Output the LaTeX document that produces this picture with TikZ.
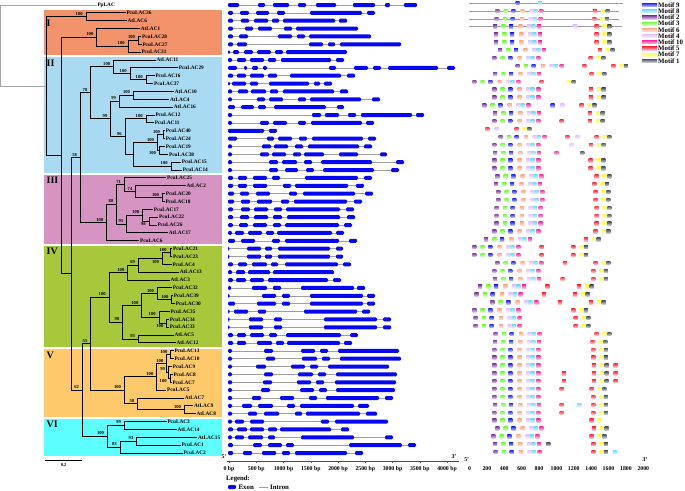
\documentclass[tikz,border=0pt]{standalone}
\usepackage{fontspec}
\setmainfont{Liberation Serif}
\usetikzlibrary{positioning}
\definecolor{cladeI}{RGB}{242,147,107}
\definecolor{cladeII}{RGB}{168,219,242}
\definecolor{cladeIII}{RGB}{214,148,195}
\definecolor{cladeIV}{RGB}{166,200,58}
\definecolor{cladeV}{RGB}{253,201,107}
\definecolor{cladeVI}{RGB}{92,254,254}
\definecolor{exonblue}{RGB}{8,8,240}
\definecolor{mot1}{RGB}{90,92,110}
\definecolor{mot2}{RGB}{135,75,165}
\definecolor{mot3}{RGB}{120,250,60}
\definecolor{mot4}{RGB}{228,196,255}
\definecolor{mot5}{RGB}{250,60,80}
\definecolor{mot6}{RGB}{255,172,140}
\definecolor{mot7}{RGB}{255,255,80}
\definecolor{mot8}{RGB}{120,220,255}
\definecolor{mot9}{RGB}{50,50,255}
\definecolor{mot10}{RGB}{255,60,170}
\tikzstyle{branch}=[draw,line width=1pt]
\tikzstyle{leaf}=[anchor=west,inner sep=0.6pt,font=\fontsize{5.3}{6}\selectfont\bfseries]
\tikzstyle{boot}=[inner sep=0.2pt,font=\fontsize{4.6}{5}\selectfont\bfseries]
\tikzstyle{clade}=[anchor=west,inner sep=0pt,font=\fontsize{10}{10}\selectfont\bfseries]
\tikzstyle{exon}=[fill=exonblue,rounded corners=1.2pt]
\tikzstyle{intron}=[draw=gray!75,line width=0.6pt]
\tikzstyle{axlab}=[inner sep=0pt,font=\fontsize{5.8}{6}\selectfont\bfseries]
\tikzstyle{legtext}=[anchor=west,inner sep=0pt,font=\fontsize{6.8}{7}\selectfont\bfseries]
\tikzstyle{mlegend}=[anchor=west,inner sep=0pt,font=\fontsize{6.8}{7}\selectfont\bfseries]

\newcommand{\generow}[3]{%
  \pgfmathsetmacro\gy{5+7.86*#1}
  \draw[intron] (0,\gy) -- (#2,\gy);
  \foreach \a/\b in {#3} \fill[exon] (\a-0.5,\gy-2) rectangle (\b+0.5,\gy+2);
}
\newcommand{\motif}[3]{%
  \pgfmathsetmacro\my{3+7.88*#1}
  \shade[top color=#2,bottom color=#2!30] ({#3-6},\my-1.7) rectangle ({#3+6},\my+1.7);
}
\newcommand{\early}[2]{\foreach \c/\o in {mot2/0,mot3/25,mot9/48,mot6/76,mot4/102,mot8/115,mot10/132} {\motif{#1}{\c}{#2+\o}}}
\newcommand{\late}[2]{\foreach \c/\o in {mot5/0,mot7/24,mot1/38} {\motif{#1}{\c}{#2+\o}}}

\begin{document}
\begin{tikzpicture}[x=1pt,y=-1pt]
  \useasboundingbox (0,0) rectangle (685,490);

  % clades
  \fill[cladeI] (44,10) rectangle (222,55);
  \fill[cladeII] (44,57) rectangle (222,173);
  \fill[cladeIII] (44,175) rectangle (222,244);
  \fill[cladeIV] (44,245.5) rectangle (222,347);
  \fill[cladeV] (44,348.5) rectangle (222,417);
  \fill[cladeVI] (44,418.5) rectangle (222,455.7);
  \node[clade] (labI) at (46.5,23.3) {I};
  \node[clade] (labII) at (46.5,63.3) {II};
  \node[clade] (labIII) at (46.5,180) {III};
  \node[clade] (labIV) at (46.5,251.7) {IV};
  \node[clade] (labV) at (46.5,355) {V};
  \node[clade] (labVI) at (46.5,424.3) {VI};

  % tree
  \coordinate (r0) at (0.7,45.6);
  \coordinate (nIn) at (46.7,86.25);
  \coordinate (nI1) at (86,16.8);
  \coordinate (nA) at (61.7,155.7);
  \coordinate (nI2) at (96.7,37.45);
  \coordinate (nI3) at (128,46.3);
  \coordinate (nI4) at (138.3,40.35);
  \coordinate (nB) at (71,273.95);
  \coordinate (nC) at (80.3,157.8);
  \coordinate (nII) at (90.7,92.94);
  \coordinate (nII1) at (113.5,66.9);
  \coordinate (nII2) at (130,73.8);
  \coordinate (nII3) at (146,79.65);
  \coordinate (nII4) at (110.7,118.98);
  \coordinate (nII5) at (119.3,101.3);
  \coordinate (nII6) at (133.3,95.4);
  \coordinate (nII7) at (125,136.65);
  \coordinate (nII8) at (146,118.95);
  \coordinate (nII9) at (133.3,154.35);
  \coordinate (nII10) at (157.3,142.55);
  \coordinate (nII11) at (163.3,134.7);
  \coordinate (nII12) at (159.3,150.4);
  \coordinate (nII13) at (171,166.15);
  \coordinate (nIII) at (106.7,222.6);
  \coordinate (nIII1) at (116.7,204.45);
  \coordinate (nIII2) at (124.3,184.8);
  \coordinate (nIII3) at (135.7,191.7);
  \coordinate (nIII4) at (162.3,197.55);
  \coordinate (nIII5) at (126.7,224.1);
  \coordinate (nIII6) at (142.7,215.3);
  \coordinate (nIII7) at (149,221.15);
  \coordinate (nD) at (82.3,390.1);
  \coordinate (nE) at (90.7,343.95);
  \coordinate (nIV) at (109,297.5);
  \coordinate (nIV1) at (127.7,272.7);
  \coordinate (nIV2) at (138.3,265.35);
  \coordinate (nIV3) at (162.3,258.5);
  \coordinate (nIV4) at (170,252.6);
  \coordinate (nIV5) at (122.7,322.35);
  \coordinate (nIV6) at (141.7,305.65);
  \coordinate (nIV7) at (157.3,293.9);
  \coordinate (nIV8) at (171.7,299.75);
  \coordinate (nIV9) at (159,317.4);
  \coordinate (nIV10) at (166.7,323.35);
  \coordinate (nIV11) at (138.3,339.05);
  \coordinate (nV) at (124.3,390.4);
  \coordinate (nV1) at (156.7,376.85);
  \coordinate (nV2) at (166.7,363.6);
  \coordinate (nV3) at (170.7,354.75);
  \coordinate (nV4) at (168.3,372.5);
  \coordinate (nV5) at (170,378.35);
  \coordinate (nV6) at (137.7,403.9);
  \coordinate (nV7) at (184.3,409.8);
  \coordinate (nVI) at (107.3,436.3);
  \coordinate (nVI1) at (124.3,425.5);
  \coordinate (nVI2) at (120,447.1);
  \coordinate (nVI3) at (136.7,441.25);

  \foreach \name/\x/\i in {PpLAC/96.7/0,PcuLAC36/125.7/1,AtLAC6/126.7/2,AtLAC1/140/3,
      PcuLAC28/141.3/4,PcuLAC27/141.7/5,PcuLAC31/140.7/6,AtLAC11/155.7/7,PcuLAC29/178/8,
      PcuLAC16/154.7/9,PcuLAC37/153.3/10,AtLAC10/174/11,AtLAC4/169.3/12,AtLAC16/173/13,
      PcuLAC12/154.7/14,PcuLAC11/154/15,PcuLAC40/165/16,PcuLAC24/165/17,PcuLAC19/165/18,
      PcuLAC38/168.3/19,PcuLAC15/181/20,PcuLAC14/182/21,PcuLAC25/166.3/22,AtLAC2/185.7/23,
      PcuLAC20/165/24,PcuLAC18/164.7/25,PcuLAC17/153/26,PcuLAC22/158.3/27,PcuLAC26/156.7/28,
      AtLAC17/168/29,PcuLAC6/139.3/30,PcuLAC21/172.3/31,PcuLAC23/172.3/32,PcuLAC4/171.7/33,
      AtLAC13/179/34,AtLAC3/169.7/35,PcuLAC32/172/36,PcuLAC39/173/37,PcuLAC30/175/38,
      PcuLAC35/169.7/39,PcuLAC34/169/40,PcuLAC33/169/41,AtLAC5/173.7/42,AtLAC12/175.7/43,
      PcuLAC13/173.7/44,PcuLAC10/173.7/45,PcuLAC9/172/46,PcuLAC8/172.7/47,PcuLAC7/171.7/48,
      PcuLAC5/166.3/49,AtLAC7/184/50,AtLAC9/193.3/51,AtLAC8/195.7/52,PcuLAC3/166.7/53,
      AtLAC14/176.7/54,AtLAC15/197.3/55,PcuLAC1/180.7/56,PcuLAC2/182.7/57}
    \node[leaf] (\name) at (\x,{5+7.86*\i}) {\name};

  \draw[branch,gray!70] (r0) |- (PpLAC.west) (r0) |- (nIn);
  \foreach \p/\c in {nIn/nI1,nIn/nA,nI1/PcuLAC36.west,nI1/AtLAC6.west,nA/nI2,nA/nB,
      nI2/AtLAC1.west,nI2/nI3,nI3/nI4,nI3/PcuLAC31.west,nI4/PcuLAC28.west,nI4/PcuLAC27.west,
      nB/nC,nB/nD,nC/nII,nC/nIII,nII/nII1,nII/nII4,nII1/AtLAC11.west,nII1/nII2,
      nII2/PcuLAC29.west,nII2/nII3,nII3/PcuLAC16.west,nII3/PcuLAC37.west,nII4/nII5,nII4/nII7,
      nII5/nII6,nII5/AtLAC16.west,nII6/AtLAC10.west,nII6/AtLAC4.west,nII7/nII8,nII7/nII9,
      nII8/PcuLAC12.west,nII8/PcuLAC11.west,nII9/nII10,nII9/nII13,nII10/nII11,nII10/nII12,
      nII11/PcuLAC40.west,nII11/PcuLAC24.west,nII12/PcuLAC19.west,nII12/PcuLAC38.west,
      nII13/PcuLAC15.west,nII13/PcuLAC14.west,
      nIII/nIII1,nIII/PcuLAC6.west,nIII1/nIII2,nIII1/nIII5,nIII2/PcuLAC25.west,nIII2/nIII3,
      nIII3/AtLAC2.west,nIII3/nIII4,nIII4/PcuLAC20.west,nIII4/PcuLAC18.west,nIII5/nIII6,
      nIII5/AtLAC17.west,nIII6/PcuLAC17.west,nIII6/nIII7,nIII7/PcuLAC22.west,nIII7/PcuLAC26.west,
      nD/nE,nD/nVI,nE/nIV,nE/nV,nIV/nIV1,nIV/nIV5,nIV1/nIV2,nIV1/AtLAC3.west,nIV2/nIV3,
      nIV2/AtLAC13.west,nIV3/nIV4,nIV3/PcuLAC4.west,nIV4/PcuLAC21.west,nIV4/PcuLAC23.west,
      nIV5/nIV6,nIV5/nIV11,nIV6/nIV7,nIV6/nIV9,nIV7/PcuLAC32.west,nIV7/nIV8,
      nIV8/PcuLAC39.west,nIV8/PcuLAC30.west,nIV9/PcuLAC35.west,nIV9/nIV10,
      nIV10/PcuLAC34.west,nIV10/PcuLAC33.west,nIV11/AtLAC5.west,nIV11/AtLAC12.west,
      nV/nV1,nV/nV6,nV1/nV2,nV1/PcuLAC5.west,nV2/nV3,nV2/nV4,nV3/PcuLAC13.west,
      nV3/PcuLAC10.west,nV4/PcuLAC9.west,nV4/nV5,nV5/PcuLAC8.west,nV5/PcuLAC7.west,
      nV6/AtLAC7.west,nV6/nV7,nV7/AtLAC9.west,nV7/AtLAC8.west,
      nVI/nVI1,nVI/nVI2,nVI1/PcuLAC3.west,nVI1/AtLAC14.west,nVI2/nVI3,nVI2/PcuLAC2.west,
      nVI3/AtLAC15.west,nVI3/PcuLAC1.west}
    \draw[branch] (\p) |- (\c);

  \foreach \n/\v in {nI1/100,nI2/100,nI3/100,nI4/100,nC/58,nII/78,nII1/100,nII2/100,
      nII3/100,nII4/99,nII5/99,nII6/100,nII7/96,nII8/100,nII10/100,nII11/100,nII13/100,
      nIII/100,nIII1/88,nIII2/71,nIII3/74,nIII4/100,nIII5/95,nIII6/100,nE/55,nD/62,
      nIV/100,nIV1/100,nIV2/69,nIV4/100,nIV5/98,nIV6/100,nIV7/100,nIV8/100,nIV9/100,
      nIV11/93,nV/100,nV1/100,nV2/100,nV3/100,nV4/99,nV6/58,nV7/100,nVI/100,nVI1/99,
      nVI2/83,nVI3/93}
    \node[boot,above left=1.1pt and 3pt of \n] (b\n) {\v};
  \foreach \n/\v in {nII12/100,nIII7/98,nIV3/100,nIV10/100,nV5/100}
    \node[boot,below left=1.1pt and 3pt of \n] (b\n) {\v};

  \coordinate (sb0) at (45,460);
  \coordinate (sb1) at (82.3,460);
  \draw[line width=0.8pt] (sb0) -- (sb1) node[boot,midway,below=3pt] (sblab) {0.2};

  % gene structures
  \begin{scope}[shift={(228.5,0)}]
    \generow{0}{188}{0/10,30/36,45/60,70/77,88/107,125/146,157/161,176/188}
    \generow{1}{146}{0/4,12/20,28/40,49/56,82/133,139/146}
    \generow{2}{118}{0/4,13/20,26/39,44/50,55/106,111/118}
    \generow{3}{129}{0/4,17/24,30/43,56/63,68/129}
    \generow{4}{142}{0/4,11/19,50/63,69/76,81/142}
    \generow{5}{172}{0/4,9/18,81/94,100/106,112/172}
    \generow{6}{118}{0/1,5/10,16/24,29/42,47/54,58/118}
    \generow{7}{115}{0/3,9/17,22/35,40/47,53/102,108/115}
    \generow{8}{226}{0/8,16/18,24/29,35/38,101/107,126/139,145/152,160/209,219/226}
    \generow{9}{126}{0/4,9/17,22/35,40/48,62/112,119/126}
    \generow{10}{103}{0/1,4/17,22/29,41/80,86/91,96/103}
    \generow{11}{119}{0/3,10/19,23/37,42/49,55/105,112/119}
    \generow{12}{151}{0/3,29/36,41/54,70/77,82/132,144/151}
    \generow{13}{115}{0/6,13/25,30/37,46/97,109/115}
    \generow{14}{195}{0/3,84/92,97/110,120/127,133/183,188/195}
    \generow{15}{145}{0/3,32/40,45/58,70/77,83/133,138/145}
    \generow{16}{48}{0/35,41/48}
    \generow{17}{147}{0/8,39/45,50/63,71/78,84/134,140/147}
    \generow{18}{143}{0/3,34/42,46/59,67/74,80/130,136/143}
    \generow{19}{158}{0/3,32/40,44/57,65/72,76/95,111/129,152/158}
    \generow{20}{175}{0/3,41/49,54/68,76/83,93/143,168/175}
    \generow{21}{170}{0/3,41/49,57/69,78/85,95/145,163/170}
    \generow{22}{143}{0/4,10/18,25/38,44/51,77/129,136/143}
    \generow{23}{135}{0/4,10/18,25/38,55/62,67/119,128/135}
    \generow{24}{144}{0/5,12/20,28/41,61/68,75/126,137/144}
    \generow{25}{133}{0/5,13/21,29/43,53/60,66/118,126/133}
    \generow{26}{125}{0/4,13/21,26/39,46/53,58/111,118/125}
    \generow{27}{126}{0/4,12/20,26/39,45/53,59/111,119/126}
    \generow{28}{123}{0/4,11/19,25/38,45/52,57/110,116/123}
    \generow{29}{115}{0/3,7/15,20/33,38/45,49/103,108/115}
    \generow{30}{128}{0/6,13/26,44/51,57/110,121/128}
    \generow{31}{114}{0/0.4,19/32,37/43,50/101,108/114}
    \generow{32}{114}{0/0.4,19/32,37/43,50/101,108/114}
    \generow{33}{122}{0/4,10/18,24/38,43/49,57/109,115/122}
    \generow{34}{105}{0/3,8/16,20/41,45/105}
    \generow{35}{112}{0/4,8/17,22/35,40/99,105/112}
    \generow{36}{136}{0/2,24/38,45/52,73/125,129/136}
    \generow{37}{146}{0/0.5,34/47,54/61,82/134,139/146}
    \generow{38}{146}{0/6,29/47,54/61,82/134,139/146}
    \generow{39}{141}{0/0.5,6/19,30/37,76/128,134/141}
    \generow{40}{162}{0/0.5,21/34,46/53,96/148,155/162}
    \generow{41}{162}{0/0.5,21/34,46/53,96/148,155/162}
    \generow{42}{129}{0/4,9/17,22/35,41/48,58/112,122/129}
    \generow{43}{123}{0/4,9/17,29/43,48/55,59/111,116/123}
    \generow{44}{170}{0/3,36/44,73/86,92/99,110/170}
    \generow{45}{172}{0/3,38/46,74/88,94/101,112/172}
    \generow{46}{160}{0/3,28/37,63/76,82/89,100/160}
    \generow{47}{168}{0/3,36/44,70/84,90/97,108/168}
    \generow{48}{167}{0/3,35/43,69/82,88/95,107/167}
    \generow{49}{166}{0/3,33/41,72/85,91/98,108/166}
    \generow{50}{164}{0/3,24/32,52/65,81/88,98/150,157/164}
    \generow{51}{140}{0/3,14/23,30/44,59/66,72/125,130/140}
    \generow{52}{148}{0/3,20/28,36/50,67/73,78/131,138/148}
    \generow{53}{159}{0/3,7/15,22/35,93/100,107/159}
    \generow{54}{120}{0/4,9/18,22/35,40/48,52/102,113/120}
    \generow{55}{164}{0/3,7/15,20/34,40/46,73/125,157/164}
    \generow{56}{187}{0/4,25/33,40/53,58/65,121/173,180/187}
    \generow{57}{134}{0/4,15/23,34/47,54/61,67/118,127/134}
  \end{scope}

  \draw[line width=0.5pt,gray!60!black] (227,461) -- (458,461);
  \foreach \k in {0,...,42}
    \draw[line width=0.3pt,gray!60!black] ({229+5.45*\k},461) -- ++(0,1.2);
  \foreach \k [evaluate=\k as \bp using int(500*\k)] in {0,...,8} {
    \draw[line width=0.5pt,gray!60!black] ({229+27.25*\k},461) -- ++(0,2.2);
    \node[axlab] (g\k) at ({229+27.25*\k},469) {\bp\ bp};
  }
  \node[axlab] (g5p) at (224,457) {5'};
  \node[axlab] (g3p) at (454,456.5) {3'};
  \node[legtext] (legend) at (226,479) {Legend:};
  \fill[exon] (228,485) rectangle (236,489);
  \node[legtext] (exonlab) at (238.5,487) {Exon};
  \draw[intron] (259,487) -- (268,487);
  \node[legtext] (intronlab) at (270,487) {Intron};

  % motifs
  \begin{scope}[shift={(460,0)},xscale=0.3333]
    \foreach \i/\e in {0/490,1/478,2/478,3/485}
      \draw[intron,line width=0.5pt] (28,{3+7.88*\i}) -- (\e,{3+7.88*\i});
    \motif{0}{mot9}{173} \motif{0}{mot8}{240}
    \early{1}{112} \late{1}{405}
    \early{2}{110} \late{2}{403}
    \early{3}{105} \late{3}{410} \motif{3}{mot4}{345}
    \early{4}{108} \late{4}{410}
    \early{5}{108} \late{5}{410}
    \early{6}{120} \late{6}{420}
    \early{7}{103} \late{7}{392}
    \early{8}{173} \late{8}{460} \motif{8}{mot5}{373}
    \early{9}{105} \late{9}{395}
    \early{10}{43} \motif{10}{mot5}{245} \motif{10}{mot7}{327} \motif{10}{mot1}{341}
    \early{11}{103} \late{11}{393}
    \early{12}{103} \late{12}{393}
    \early{13}{73} \late{13}{365} \motif{13}{mot9}{278} \motif{13}{mot4}{307}
    \early{14}{105} \late{14}{390}
    \early{15}{103} \late{15}{390} \motif{15}{mot5}{305}
    \motif{16}{mot5}{82} \motif{16}{mot4}{110} \late{16}{170}
    \early{17}{122} \late{17}{410} \motif{17}{mot5}{322} \motif{17}{mot4}{352}
    \early{18}{103} \late{18}{393} \motif{18}{mot4}{335}
    \early{19}{105} \motif{19}{mot10}{290} \motif{19}{mot1}{367}
    \early{20}{103} \late{20}{392}
    \early{21}{103} \late{21}{392}
    \early{22}{112} \late{22}{410}
    \early{23}{108} \late{23}{403}
    \early{24}{115} \late{24}{407}
    \early{25}{115} \late{25}{407}
    \early{26}{110} \late{26}{410}
    \early{27}{110} \late{27}{410}
    \early{28}{110} \late{28}{410}
    \early{29}{103} \late{29}{407}
    \early{30}{78} \late{30}{378}
    \early{31}{43} \late{31}{340} \motif{31}{mot5}{245}
    \early{32}{43} \late{32}{340} \motif{32}{mot5}{245}
    \early{33}{112} \late{33}{407} \motif{33}{mot5}{315}
    \early{34}{103} \late{34}{400}
    \early{35}{105} \late{35}{400} \motif{35}{mot5}{308}
    \early{36}{60} \late{36}{357} \motif{36}{mot5}{262}
    \early{37}{50} \late{37}{345} \motif{37}{mot5}{252}
    \early{38}{97} \late{38}{393} \motif{38}{mot5}{300}
    \early{39}{43} \late{39}{340}
    \early{40}{47} \late{40}{347}
    \early{41}{47} \late{41}{347}
    \early{42}{107} \late{42}{410}
    \early{43}{105} \late{43}{398}
    \early{44}{103} \late{44}{400}
    \early{45}{103} \late{45}{400}
    \early{46}{103} \late{46}{402} \motif{46}{mot5}{467}
    \early{47}{103} \late{47}{402} \motif{47}{mot5}{312} \motif{47}{mot5}{467}
    \early{48}{103} \late{48}{402} \motif{48}{mot5}{312} \motif{48}{mot5}{467}
    \early{49}{103} \late{49}{395} \motif{49}{mot5}{305}
    \early{50}{103} \late{50}{400}
    \early{51}{105} \late{51}{400} \motif{51}{mot5}{305} \motif{51}{mot8}{358}
    \early{52}{103} \late{52}{400} \motif{52}{mot5}{305}
    \early{53}{103} \motif{53}{mot5}{395} \motif{53}{mot7}{420}
    \early{54}{112} \late{54}{402}
    \early{55}{100} \late{55}{395}
    \early{56}{105} \late{56}{400} \motif{56}{mot1}{265}
    \early{57}{107} \late{57}{400} \motif{57}{mot8}{465}
  \end{scope}

  \foreach \v in {0,200,...,2000}
    \node[axlab] (m\v) at ({469.5+0.0869*\v},469) {\v};
  \node[axlab] (m5p) at (466.7,459.3) {5'};
  \node[axlab] (m3p) at (645,459.3) {3'};

  \foreach \m [count=\k from 0] in {9,8,2,3,6,4,10,5,7,1} {
    \shade[top color=mot\m,bottom color=mot\m!30] (642,{5+6.2*\k-1.6}) rectangle (657,{5+6.2*\k+1.6});
    \node[mlegend] (lg\m) at (658,{5+6.2*\k}) {Motif \m};
  }
\end{tikzpicture}
\end{document}
